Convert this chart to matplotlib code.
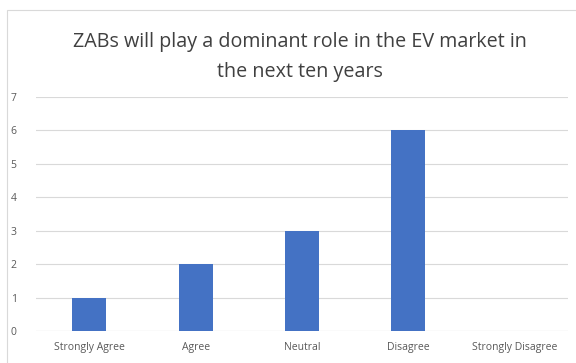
import matplotlib.pyplot as plt
from matplotlib.patches import Rectangle

categories = ['Strongly Agree', 'Agree', 'Neutral', 'Disagree', 'Strongly Disagree']
counts = [1, 2, 3, 6, 0]
yticks = [0, 1, 2, 3, 4, 5, 6, 7]

plt.rcParams['font.family'] = ['Open Sans', 'DejaVu Sans']

fig = plt.figure(figsize=(5.76, 3.63), dpi=100)
fig.patches.append(Rectangle((7 / 576, -0.01), 1.0, 1 - 10 / 363 + 0.01,
                             transform=fig.transFigure, fill=False,
                             edgecolor='#d9d9d9', lw=0.8))

ax = fig.add_axes([36 / 576, 1 - 331 / 363, 532 / 576, 234 / 363])
ax.bar(range(len(categories)), counts, width=0.32, color='#4472c4', zorder=3)

ax.set_xlim(-0.5, len(categories) - 0.5)
ax.set_ylim(0, 7)
ax.set_yticks(yticks)
ax.set_xticks(range(len(categories)))
ax.set_xticklabels(categories)
ax.yaxis.grid(True, color='#d9d9d9', lw=0.8, zorder=0)
for s in ax.spines.values():
    s.set_visible(False)
ax.axhline(0, color='#d9d9d9', lw=0.8, zorder=1)
ax.tick_params(length=0, labelsize=7.5, colors='#595959')
ax.tick_params(axis='y', pad=14)
ax.tick_params(axis='x', pad=8)

fig.text(300 / 576, 1 - 57 / 363,
         'ZABs will play a dominant role in the EV market in\nthe next ten years',
         ha='center', va='center', fontsize=14.2, color='#404040', linespacing=1.6)

fig.savefig('out.png', dpi=100)
